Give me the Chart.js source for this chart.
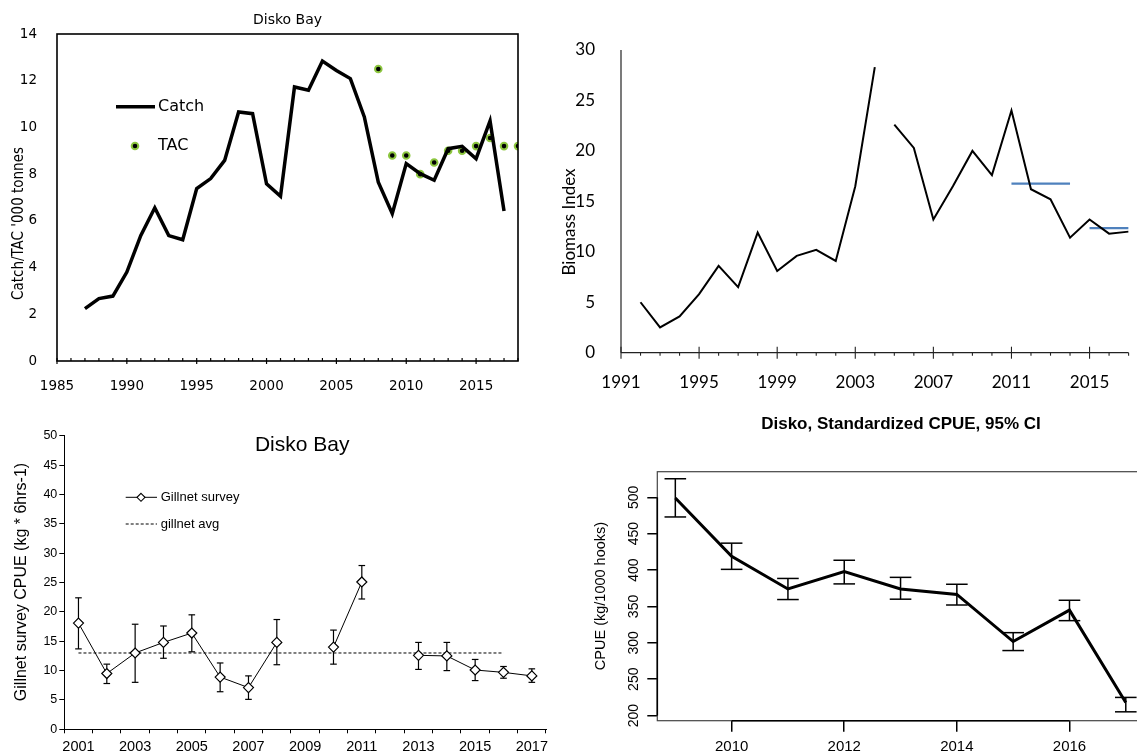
<!DOCTYPE html>
<html><head><meta charset="utf-8">
<script src="https://cdn.jsdelivr.net/npm/chart.js@4.4.1/dist/chart.umd.min.js"></script>
<style>
html,body{margin:0;padding:0;background:#fff;}
body{width:1137px;height:755px;overflow:hidden;position:relative;}
canvas{position:absolute;}
</style></head><body>
<canvas id="c1" width="560" height="400" style="left:0;top:0"></canvas>
<canvas id="c2" width="577" height="400" style="left:560px;top:0"></canvas>
<canvas id="c3" width="560" height="375" style="left:0;top:380px"></canvas>
<canvas id="c4" width="600" height="375" style="left:560px;top:380px"></canvas>
<script>
// ---------- DATA ----------
// Panel 1: Disko Bay catch and TAC ('000 t)
const catchYears = [1987,1988,1989,1990,1991,1992,1993,1994,1995,1996,1997,1998,1999,2000,2001,2002,2003,2004,2005,2006,2007,2008,2009,2010,2011,2012,2013,2014,2015,2016,2017];
const catchValues = [2.24,2.67,2.78,3.81,5.38,6.56,5.37,5.19,7.38,7.81,8.59,10.66,10.59,7.59,7.05,11.73,11.59,12.84,12.44,12.09,10.45,7.66,6.31,8.45,8.02,7.74,9.09,9.19,8.66,10.28,6.42];
const tacYears = [2008,2009,2010,2011,2012,2013,2014,2015,2016,2017,2018];
const tacValues = [12.5,8.8,8.8,8.0,8.5,9.0,9.0,9.2,9.55,9.2,9.2];
const p1XTicks = [1985,1990,1995,2000,2005,2010,2015];

// Panel 2: Biomass index (two survey series)
const biomassYearsA = [1992,1993,1994,1995,1996,1997,1998,1999,2000,2001,2002,2003,2004];
const biomassA = [5.0,2.5,3.6,5.8,8.6,6.5,11.9,8.1,9.6,10.2,9.1,16.5,28.3];
const biomassYearsB = [2005,2006,2007,2008,2009,2010,2011,2012,2013,2014,2015,2016,2017];
const biomassB = [22.6,20.3,13.2,16.5,20.0,17.6,24.0,16.2,15.2,11.4,13.2,11.8,12.0];
const refYearsA = [2011,2014]; const refValueA = 16.75;
const refYearsB = [2015,2017]; const refValueB = 12.35;
const p2XTicks = [1991,1995,1999,2003,2007,2011,2015];

// Panel 3: Gillnet survey CPUE
const gillYears = ['2001','2002','2003','2004','2005','2006','2007','2008','2009','2010','2011','2012','2013','2014','2015','2016','2017'];
const gillValues = [18.1,9.5,13.0,14.8,16.4,8.9,7.1,14.8,null,14.0,25.1,null,12.6,12.5,10.1,9.7,9.1];
const gillUpper  = [22.4,11.1,17.9,17.6,19.5,11.3,9.1,18.7,null,16.9,27.9,null,14.8,14.8,11.9,10.7,10.3];
const gillLower  = [13.7,7.8,8.0,12.1,13.2,6.4,5.1,11.0,null,11.1,22.2,null,10.2,10.0,8.3,8.7,8.0];
const gillAvg = 13.0; const gillAvgFrom = '2001'; const gillAvgTo = '2016';

// Panel 4: Standardized CPUE with 95% CI
const cpueYears = [2009,2010,2011,2012,2013,2014,2015,2016,2017];
const cpueValues = [499,419,374,398,374,366.5,301.8,345,218];
const cpueUpper  = [525.5,437,388.5,413.5,390,380.5,314,358.5,225];
const cpueLower  = [473,401,359.5,381,360,352,289.4,330.5,205.2];
const p4XTicks = [2010,2012,2014,2016];
const p4YTicks = [200,250,300,350,400,450,500];

// ---------- HELPERS ----------
function T(ctx, s, x, y, font, o) {
  o = o || {};
  ctx.save(); ctx.font = font; ctx.fillStyle = o.color || '#000';
  ctx.textAlign = o.align || 'center'; ctx.textBaseline = o.base || 'middle';
  ctx.translate(x, y); if (o.rot) ctx.rotate(o.rot);
  ctx.fillText(s, 0, 0); ctx.restore();
}
function L(ctx, x1, y1, x2, y2, w, c, dash) {
  ctx.save(); ctx.beginPath(); ctx.lineWidth = w; ctx.strokeStyle = c || '#000';
  if (dash) ctx.setLineDash(dash);
  ctx.moveTo(x1, y1); ctx.lineTo(x2, y2); ctx.stroke(); ctx.restore();
}
const pts = (xs, ys) => xs.map((x, i) => ({x: x, y: ys[i]}));
const base = {animation: false, responsive: false, events: [],
  plugins: {legend: {display: false}, tooltip: {enabled: false}, title: {display: false}}};
const DJ = '"DejaVu Sans", Verdana, sans-serif';
const AR = '"Liberation Sans", Arial, sans-serif';
const LA = 'Lato, "Open Sans", sans-serif';

// ---------- PANEL 1 ----------
new Chart(document.getElementById('c1'), {
  type: 'line',
  data: {datasets: [
    {label: 'Catch', data: pts(catchYears, catchValues), borderColor: '#000', borderWidth: 3.5, pointRadius: 0, tension: 0},
    {label: 'TAC', data: pts(tacYears, tacValues), showLine: false, pointRadius: 3.3,
     pointBackgroundColor: '#000', pointBorderColor: '#8cc63f', pointBorderWidth: 2}
  ]},
  options: Object.assign({}, base, {
    layout: {padding: {left: 0, right: 42, top: 34, bottom: 0}},
    scales: {
      x: {type: 'linear', min: 1985, max: 2018, grid: {display: false}, border: {display: false},
          afterBuildTicks: s => { s.ticks = p1XTicks.map(v => ({value: v})); },
          ticks: {autoSkip: false, maxRotation: 0, padding: 9, color: '#000', font: {family: DJ, size: 13.5},
                  callback: v => String(v)},
          afterFit: s => { s.height = 39; }},
      y: {min: 0, max: 14, grid: {display: false}, border: {display: false},
          ticks: {stepSize: 2, padding: 12, color: '#000', font: {family: DJ, size: 13.5}},
          afterFit: s => { s.width = 57; }}
    }
  }),
  plugins: [{id: 'p1x', afterDraw(chart) {
    const {ctx, chartArea: a, scales: {x}} = chart;
    ctx.save(); ctx.strokeStyle = '#000'; ctx.lineWidth = 1.6;
    ctx.strokeRect(a.left, a.top, a.right - a.left, a.bottom - a.top); ctx.restore();
    for (let yr = 1985; yr <= 2018; yr++) {
      const px = x.getPixelForValue(yr);
      L(ctx, px, a.bottom - 3, px, a.bottom + (yr % 5 === 0 ? 3 : 0), 1.2, '#000');
    }
    T(ctx, 'Disko Bay', (a.left + a.right) / 2, 20, '14px ' + DJ);
    T(ctx, "Catch/TAC '000 tonnes", 19, 223.5, '15px "Liberation Sans Narrow", "DejaVu Sans Condensed", sans-serif', {rot: -Math.PI / 2});
    const d0 = chart.data.datasets[0], d1 = chart.data.datasets[1];
    L(ctx, 116, 106.7, 155, 106.7, d0.borderWidth, d0.borderColor);
    T(ctx, d0.label, 158, 106.7, '16px ' + DJ, {align: 'left'});
    ctx.save(); ctx.beginPath(); ctx.arc(135, 146, d1.pointRadius, 0, Math.PI * 2);
    ctx.fillStyle = d1.pointBackgroundColor; ctx.fill(); ctx.lineWidth = d1.pointBorderWidth;
    ctx.strokeStyle = d1.pointBorderColor; ctx.stroke(); ctx.restore();
    T(ctx, d1.label, 158, 146, '16px ' + DJ, {align: 'left'});
  }}]
});

// ---------- PANEL 2 ----------
new Chart(document.getElementById('c2'), {
  type: 'line',
  data: {datasets: [
    {data: pts(biomassYearsA, biomassA), borderColor: '#000', borderWidth: 2, pointRadius: 0, tension: 0},
    {data: pts(biomassYearsB, biomassB), borderColor: '#000', borderWidth: 2, pointRadius: 0, tension: 0},
    {data: pts(refYearsA, refYearsA.map(() => refValueA)), borderColor: '#4f81bd', borderWidth: 2.2, pointRadius: 0},
    {data: pts(refYearsB, refYearsB.map(() => refValueB)), borderColor: '#4f81bd', borderWidth: 2.2, pointRadius: 0}
  ]},
  options: Object.assign({}, base, {
    layout: {padding: {left: 0, right: 8.4, top: 50, bottom: 0}},
    scales: {
      x: {type: 'linear', min: 1991, max: 2017, grid: {display: false}, border: {display: false},
          afterBuildTicks: s => { s.ticks = p2XTicks.map(v => ({value: v})); },
          ticks: {autoSkip: false, maxRotation: 0, padding: 12, color: '#000', font: {family: LA, size: 17},
                  callback: v => String(v)},
          afterFit: s => { s.height = 47.3; }},
      y: {min: 0, max: 30, grid: {display: false}, border: {display: false},
          ticks: {stepSize: 5, padding: 18, color: '#000', font: {family: LA, size: 17}},
          afterFit: s => { s.width = 61; }}
    }
  }),
  plugins: [{id: 'p2x', afterDraw(chart) {
    const {ctx, chartArea: a, scales: {x}} = chart;
    L(ctx, a.left, a.top, a.left, a.bottom, 1.2, '#222');
    L(ctx, a.left, a.bottom, a.right, a.bottom, 1.2, '#222');
    for (let yr = 1991; yr <= 2017; yr++) {
      const px = x.getPixelForValue(yr);
      const major = (yr - 1991) % 4 === 0;
      L(ctx, px, a.bottom - (major ? 6 : 0), px, a.bottom + (major ? 6 : 3), 1.1, '#222');
    }
    T(ctx, 'Biomass Index', 10, 222, '17px ' + LA, {rot: -Math.PI / 2});
  }}]
});

// ---------- PANEL 3 ----------
new Chart(document.getElementById('c3'), {
  type: 'line',
  data: {labels: gillYears, datasets: [
    {label: 'Gillnet survey', data: gillValues, borderColor: '#000', borderWidth: 1, spanGaps: false, tension: 0,
     pointStyle: 'rectRot', pointRadius: 5, pointBackgroundColor: '#fff', pointBorderColor: '#000', pointBorderWidth: 1.2},
    {label: 'gillnet avg', data: [{x: gillAvgFrom, y: gillAvg}, {x: gillAvgTo, y: gillAvg}], borderColor: '#000',
     borderWidth: 1, borderDash: [3, 2], pointRadius: 0}
  ]},
  options: Object.assign({}, base, {
    layout: {padding: {left: 0, right: 14, top: 55.8, bottom: 1.7}},
    scales: {
      x: {type: 'category', offset: true,
          grid: {display: true, drawOnChartArea: false, offset: true, tickLength: 4, color: '#000', lineWidth: 1},
          border: {display: true, color: '#000', width: 1},
          ticks: {autoSkip: false, maxRotation: 0, padding: 5, color: '#000', font: {family: AR, size: 14.5},
                  callback: function (v, i) { return i % 2 === 0 ? this.getLabelForValue(v) : ''; }},
          afterFit: s => { s.height = 24; }},
      y: {min: 0, max: 50,
          grid: {display: true, drawOnChartArea: false, tickLength: 5, color: '#000', lineWidth: 1},
          border: {display: true, color: '#000', width: 1},
          ticks: {stepSize: 5, padding: 2, color: '#000', font: {family: AR, size: 12.5}},
          afterFit: s => { s.width = 64.3; }}
    }
  }),
  plugins: [{id: 'p3x', beforeDatasetsDraw(chart) {
    const {ctx, scales: {x, y}} = chart;
    gillValues.forEach((v, i) => {
      if (v === null) return;
      const px = x.getPixelForValue(i), yu = y.getPixelForValue(gillUpper[i]), yl = y.getPixelForValue(gillLower[i]);
      L(ctx, px, yu, px, yl, 1.2, '#000');
      L(ctx, px - 3.3, yu, px + 3.3, yu, 1.2, '#000');
      L(ctx, px - 3.3, yl, px + 3.3, yl, 1.2, '#000');
    });
  }, afterDraw(chart) {
    const {ctx, chartArea: a} = chart;
    T(ctx, 'Disko Bay', (a.left + a.right) / 2 - 3, 65.7, '21px ' + AR);
    T(ctx, 'Gillnet survey CPUE (kg * 6hrs-1)', 22, 202, '16px ' + AR, {rot: -Math.PI / 2});
    const d0 = chart.data.datasets[0], d1 = chart.data.datasets[1];
    L(ctx, 125.7, 117.3, 157, 117.3, 1, '#000');
    ctx.save(); ctx.beginPath(); ctx.moveTo(141, 113.3); ctx.lineTo(145, 117.3); ctx.lineTo(141, 121.3); ctx.lineTo(137, 117.3);
    ctx.closePath(); ctx.fillStyle = '#fff'; ctx.fill(); ctx.lineWidth = 1.1; ctx.strokeStyle = '#000'; ctx.stroke(); ctx.restore();
    T(ctx, d0.label, 160.7, 117.3, '13px ' + AR, {align: 'left'});
    L(ctx, 125.7, 144, 157, 144, 1, '#000', d1.borderDash);
    T(ctx, d1.label, 160.7, 144, '13px ' + AR, {align: 'left'});
  }}]
});

// ---------- PANEL 4 ----------
new Chart(document.getElementById('c4'), {
  type: 'line',
  data: {datasets: [
    {data: pts(cpueYears, cpueValues), borderColor: '#000', borderWidth: 3, pointRadius: 0, tension: 0}
  ]},
  options: Object.assign({}, base, {
    layout: {padding: {left: 0, right: 16.2, top: 91.7, bottom: 0.3}},
    scales: {
      x: {type: 'linear', min: 2008.68, max: 2017.32,
          grid: {display: true, drawOnChartArea: false, tickLength: 11, color: '#000', lineWidth: 1.5},
          border: {display: false},
          afterBuildTicks: s => { s.ticks = p4XTicks.map(v => ({value: v})); },
          ticks: {autoSkip: false, maxRotation: 0, padding: 6, color: '#000', font: {family: AR, size: 15},
                  callback: v => String(v)},
          afterFit: s => { s.height = 34; }},
      y: {min: 193, max: 535.2,
          grid: {display: true, drawOnChartArea: false, tickLength: 10, color: '#000', lineWidth: 1.5},
          border: {display: false},
          afterBuildTicks: s => { s.ticks = p4YTicks.map(v => ({value: v})); },
          ticks: {display: false},
          afterFit: s => { s.width = 97.3; }}
    }
  }),
  plugins: [{id: 'p4x', afterDraw(chart) {
    const {ctx, chartArea: a, scales: {x, y}} = chart;
    ctx.save(); ctx.strokeStyle = '#444'; ctx.lineWidth = 1.2;
    ctx.strokeRect(a.left, a.top, a.right - a.left, a.bottom - a.top); ctx.restore();
    L(ctx, x.getPixelForValue(p4XTicks[0]), a.bottom, x.getPixelForValue(p4XTicks[p4XTicks.length - 1]), a.bottom, 1.6, '#000');
    L(ctx, a.left, y.getPixelForValue(p4YTicks[0]), a.left, y.getPixelForValue(p4YTicks[p4YTicks.length - 1]), 1.6, '#000');
    cpueYears.forEach((yr, i) => {
      const px = x.getPixelForValue(yr), yu = y.getPixelForValue(cpueUpper[i]), yl = y.getPixelForValue(cpueLower[i]);
      L(ctx, px, yu, px, yl, 1.5, '#000');
      L(ctx, px - 10.8, yu, px + 10.8, yu, 1.5, '#000');
      L(ctx, px - 10.8, yl, px + 10.8, yl, 1.5, '#000');
    });
    p4YTicks.forEach(v => T(ctx, String(v), 74.5, y.getPixelForValue(v), '14px ' + AR, {rot: -Math.PI / 2}));
    T(ctx, 'CPUE (kg/1000 hooks)', 41, 216, '14.5px ' + AR, {rot: -Math.PI / 2});
    T(ctx, 'Disko, Standardized CPUE, 95% CI', 341, 44, 'bold 17px ' + AR);
  }}]
});
</script>
</body></html>
